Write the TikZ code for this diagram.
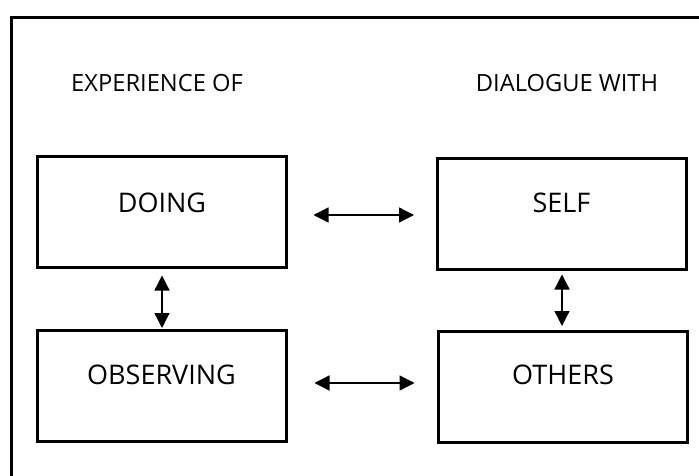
\documentclass[tikz,border=0pt]{standalone}
\usepackage{fontspec}
\setmainfont{Open Sans}
\usetikzlibrary{arrows.meta}
\begin{document}
\begin{tikzpicture}[x=1pt,y=-1pt,
  box/.style={draw=black, line width=3pt, minimum width=249pt, minimum height=111pt, inner sep=0pt},
  boxtext/.style={font=\fontsize{27}{30}\selectfont, text=black},
  heading/.style={font=\fontsize{23.7}{27}\selectfont, text=black, inner sep=0pt},
  link/.style={line width=1.3pt, {Triangle[length=15pt,width=15pt]}-{Triangle[length=15pt,width=15pt]}}
]
\useasboundingbox (0,0) rectangle (699,476);
\clip (0,0) rectangle (699,476);
\draw[line width=3pt] (11,520) -- (11,18) -- (740,18);
\node[heading] (exp) at (157,83.5) {EXPERIENCE OF};
\node[heading] (dia) at (567,83.5) {DIALOGUE WITH};
\node[box, label={[boxtext, yshift=9.5pt]center:DOING}] (doing) at (162,212) {};
\node[box, label={[boxtext, yshift=11.5pt]center:SELF}] (self) at (561.5,214) {};
\node[box, label={[boxtext, yshift=10.5pt]center:OBSERVING}] (obs) at (161.5,385.5) {};
\node[box, label={[boxtext, yshift=11.5pt]center:OTHERS}] (oth) at (563,386.5) {};
\draw[link, shorten <=25.5pt, shorten >=21.5pt] ([yshift=-3pt]doing.east) -- ([yshift=-3pt]doing.east -| self.west);
\draw[link, shorten <=27pt, shorten >=22.5pt] ([yshift=2.5pt]obs.east) -- ([yshift=2.5pt]obs.east -| oth.west);
\draw[link, shorten <=6.5pt, shorten >=0.5pt] (doing.south) -- (doing.south |- obs.north);
\draw[link, shorten <=3.5pt, shorten >=3.5pt] ([xshift=0.5pt]self.south) -- ([xshift=0.5pt]self.south |- oth.north);
\end{tikzpicture}
\end{document}
